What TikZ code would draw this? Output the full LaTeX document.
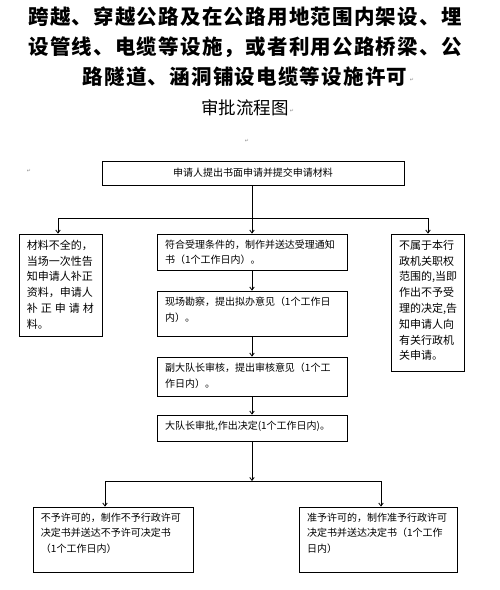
\documentclass[tikz,border=0pt]{standalone}
\usepackage{fontspec}
\usetikzlibrary{arrows.meta}
\newfontfamily\cjk{Noto Sans CJK SC}
\newfontfamily\symf{DejaVu Sans}
\newcommand\bt[3]{\parbox[c][#2pt][t]{#1pt}{\raggedright #3}}
\newcommand\spr[2]{\makebox[#1pt][s]{#2}}
\begin{document}
\begin{tikzpicture}[x=1pt,y=-1pt,
  box/.style={draw, line width=0.8pt, inner xsep=8pt, inner ysep=6pt, font=\cjk\fontsize{10}{15.5}\selectfont},
  sbox/.style={box, font=\cjk\fontsize{11}{15.8}\selectfont},
  arr/.style={-{Straight Barb[length=3pt,width=4.5pt]}, line width=0.8pt},
  ln/.style={line width=0.8pt},
  ttl/.style={font=\cjk\bfseries\fontsize{20.5}{24}\selectfont\addfontfeature{LetterSpace=6}, inner sep=0pt},
  pmark/.style={font=\symf\fontsize{5}{5}\selectfont, text=black!45, inner sep=0pt}]
\useasboundingbox (0,0) rectangle (500,590);
% title
\node[ttl] (t1) at (245,17) {跨越、穿越公路及在公路用地范围内架设、埋};
\node[ttl] (t2) at (245,47) {设管线、电缆等设施，或者利用公路桥梁、公};
\node[ttl] (t3) at (245,77) {路隧道、涵洞铺设电缆等设施许可};
\node[font=\cjk\fontsize{17.5}{20}\selectfont, inner sep=0pt] (t4) at (245,108) {审批流程图};
\node[pmark] (pm1) at (412,80) {↵};
\node[pmark] (pm2) at (292,111) {↵};
\node[pmark] (pm3) at (247,141) {↵};
\node[pmark] (pm4) at (29,171) {↵};
% boxes
\node[box, inner sep=0pt, minimum width=302pt, minimum height=24pt] (b1) at (253,173) {申请人提出书面申请并提交申请材料};
\node[sbox] (lft) at (60.5,285) {\bt{67}{90}{材料不全的，\\当场一次性告\\知申请人补正\\资料，申请人\\\spr{67}{补\hfil 正\hfil 申\hfil 请\hfil 材}\\料。}};
\node[box] (m1) at (252,252) {\bt{174}{24}{符合受理条件的，制作并送达受理通知\\书（1个工作日内）。}};
\node[box] (m2) at (252,313.5) {\bt{174}{33}{现场勘察，提出拟办意见（1个工作日\\内）。}};
\node[box] (m3) at (252,376.5) {\bt{174}{27}{副大队长审核，提出审核意见（1个工\\作日内）。}};
\node[box] (m4) at (252,428) {\bt{174}{14}{大队长审批,作出决定(1个工作日内)。}};
\node[sbox] (rgt) at (427.5,302.5) {\bt{57}{125}{不属于本行\\政机关职权\\范围的,当即\\作出不予受\\理的决定,告\\知申请人向\\有关行政机\\关申请。}};
\node[box] (bl) at (113,539.5) {\bt{144}{53}{不予许可的，制作不予行政许可\\决定书并送达不予许可决定书\\（1个工作日内）}};
\node[box] (br) at (378,539.5) {\bt{142}{53}{准予许可的，制作准予行政许可\\决定书并送达决定书（1个工作\\日内）}};
% connectors
\coordinate (j1) at (252,218);
\coordinate (jl) at (58,218);
\coordinate (jr) at (428,218);
\draw[ln] (b1.south -| j1) -- (j1);
\draw[ln] (jl) -- (jr);
\draw[arr] (jl) -- (jl |- lft.north);
\draw[arr] (j1) -- (m1.north);
\draw[arr] (jr) -- (jr |- rgt.north);
\draw[arr] (m1.south) -- (m2.north);
\draw[arr] (m2.south) -- (m3.north);
\draw[arr] (m3.south) -- (m4.north);
\coordinate (j2) at (252,481);
\coordinate (jbl) at (105,481);
\coordinate (jbr) at (381,481);
\draw[arr] (m4.south) -- (j2);
\draw[ln] (jbl) -- (jbr);
\draw[arr] (jbl) -- (jbl |- bl.north);
\draw[arr] (jbr) -- (jbr |- br.north);
\end{tikzpicture}
\end{document}
